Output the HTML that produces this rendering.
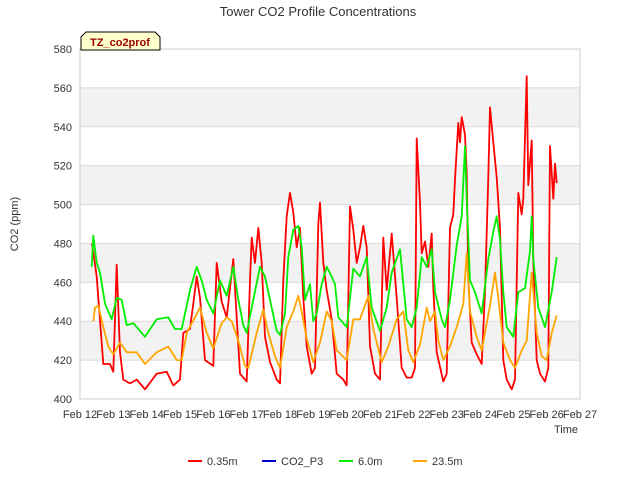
<!DOCTYPE html>
<html><head><meta charset="utf-8"><style>
body{margin:0;background:#fff;}
svg{display:block;font-family:"Liberation Sans","DejaVu Sans",sans-serif;}
</style></head><body>
<svg id="chart" width="640" height="480" viewBox="0 0 640 480">
<text x="318" y="16" text-anchor="middle" font-size="13" fill="#333">Tower CO2 Profile Concentrations</text>
<g id="bands"></g><g id="grid"></g>
<rect x="80" y="49" width="500" height="350" fill="none" stroke="#ccc"/>
<g id="yticks"></g><g id="xticks"></g><g id="series"></g>
<text transform="translate(18,224) rotate(-90)" text-anchor="middle" font-size="11" fill="#333">CO2 (ppm)</text>
<text x="566" y="433" text-anchor="middle" font-size="11" fill="#333">Time</text>
<g>
<path d="M81,50 L81,37 L86,32 L155,32 L160,37 L160,50 Z" fill="#ffffcc" stroke="#000" stroke-width="1"/>
<text x="120" y="46" text-anchor="middle" font-size="11" font-weight="bold" fill="#990000">TZ_co2prof</text>
</g>
<g id="legend"></g>
</svg>
<script>
const yTicks=[400,420,440,460,480,500,520,540,560,580];
const xTickDays=[12,13,14,15,16,17,18,19,20,21,22,23,24,25,26,27];
const xTickLabels=["Feb 12","Feb 13","Feb 14","Feb 15","Feb 16","Feb 17","Feb 18","Feb 19","Feb 20","Feb 21","Feb 22","Feb 23","Feb 24","Feb 25","Feb 26","Feb 27"];
const seriesNames=["0.35m","CO2_P3","6.0m","23.5m"];
const seriesColors=["#ff0000","#0000cc","#00ee00","#ffa500"];
const t035=[12.36,12.5,12.7,12.9,13.0,13.1,13.2,13.3,13.5,13.7,13.95,14.3,14.6,14.8,15.0,15.1,15.3,15.45,15.5,15.6,15.75,16.0,16.1,16.25,16.4,16.6,16.7,16.8,17.0,17.1,17.15,17.25,17.35,17.45,17.55,17.7,17.9,18.0,18.1,18.2,18.3,18.4,18.5,18.6,18.7,18.8,18.95,19.05,19.15,19.2,19.3,19.4,19.55,19.7,19.9,20.0,20.1,20.2,20.3,20.4,20.5,20.6,20.7,20.85,21.0,21.1,21.2,21.35,21.5,21.65,21.8,21.95,22.05,22.1,22.2,22.25,22.35,22.45,22.55,22.6,22.7,22.9,23.0,23.1,23.2,23.25,23.35,23.4,23.45,23.55,23.6,23.65,23.75,23.9,24.05,24.15,24.25,24.3,24.4,24.5,24.6,24.7,24.8,24.95,25.05,25.15,25.25,25.3,25.4,25.45,25.55,25.6,25.7,25.8,25.95,26.05,26.1,26.2,26.25,26.3];
const v035=[480,463,418,418,414,469,424,410,408,410,405,413,414,407,410,434,436,456,463,452,420,417,470,450,442,472,442,413,409,461,483,470,488,470,432,419,410,408,461,494,506,496,478,488,452,427,413,416,490,501,470,456,441,413,410,407,499,487,470,478,489,478,427,413,410,483,456,485,452,416,411,411,416,534,501,475,481,468,485,457,424,409,413,488,495,513,542,532,545,536,516,461,429,423,418,455,514,550,532,514,488,420,410,405,410,506,495,503,566,510,533,471,420,413,409,416,530,503,521,511];
const tP3=[];
const vP3=[];
const t60=[12.35,12.4,12.5,12.6,12.75,12.95,13.1,13.25,13.4,13.6,13.95,14.3,14.65,14.85,15.05,15.3,15.5,15.65,15.8,16.0,16.2,16.4,16.6,16.75,16.9,17.0,17.2,17.4,17.55,17.7,17.9,18.0,18.15,18.25,18.4,18.55,18.65,18.75,18.9,19.0,19.1,19.25,19.4,19.55,19.65,19.75,20.0,20.2,20.4,20.6,20.75,21.0,21.2,21.35,21.6,21.8,21.95,22.1,22.25,22.4,22.55,22.65,22.85,22.95,23.1,23.3,23.45,23.55,23.6,23.7,23.85,24.05,24.25,24.4,24.5,24.6,24.7,24.8,25.0,25.15,25.35,25.5,25.55,25.6,25.75,25.95,26.15,26.3];
const v60=[468,484,470,465,449,441,452,451,438,439,432,441,442,436,436,456,468,461,451,444,461,453,468,451,438,434,451,468,463,451,435,433,444,473,487,489,478,451,459,440,444,459,468,463,459,442,437,467,463,473,447,435,447,465,477,441,437,447,473,468,477,455,441,437,451,479,494,530,503,461,455,444,472,486,494,482,455,437,432,455,457,476,494,472,447,437,455,473];
const t235=[12.4,12.45,12.55,12.7,12.85,13.0,13.2,13.4,13.7,13.95,14.3,14.65,14.9,15.05,15.2,15.45,15.6,15.8,16.0,16.25,16.4,16.55,16.75,16.95,17.05,17.3,17.5,17.65,17.85,18.0,18.2,18.4,18.55,18.65,18.8,19.0,19.2,19.4,19.55,19.7,20.0,20.2,20.4,20.65,20.8,21.05,21.25,21.5,21.7,21.85,22.0,22.2,22.4,22.5,22.65,22.75,22.9,23.1,23.3,23.5,23.6,23.7,23.9,24.05,24.3,24.45,24.55,24.7,24.9,25.05,25.25,25.4,25.55,25.7,25.85,26.0,26.15,26.3];
const v235=[440,447,448,437,427,423,429,424,424,418,424,427,420,420,434,442,447,434,426,439,442,440,430,417,416,434,446,434,422,416,437,445,453,445,431,419,429,445,440,425,420,441,441,453,436,419,427,441,445,425,419,428,447,440,445,430,420,427,437,449,475,445,432,425,448,465,452,429,420,416,425,430,465,434,422,420,434,443];
const X0=80,X1=580,Y0=399,Y1=49,DMIN=12,DMAX=27,VMIN=400,VMAX=580;
const xs=d=>X0+(d-DMIN)*(X1-X0)/(DMAX-DMIN);
const ys=v=>Y0-(v-VMIN)*(Y0-Y1)/(VMAX-VMIN);
const NS="http://www.w3.org/2000/svg";
function mk(tag,attrs,parent){const e=document.createElementNS(NS,tag);for(const k in attrs)e.setAttribute(k,attrs[k]);parent.appendChild(e);return e;}
const bands=document.getElementById('bands'),grid=document.getElementById('grid');
for(let i=0;i<yTicks.length-1;i++){
  if(i%2===1){const r=mk('rect',{x:X0,y:ys(yTicks[i+1]),width:X1-X0,height:ys(yTicks[i])-ys(yTicks[i+1]),fill:'#f2f2f2'},bands);
  
  }
}
const yt=document.getElementById('yticks');
yTicks.forEach(v=>{
  const l=mk('line',{x1:X0,x2:X1,y1:ys(v),y2:ys(v),stroke:'#dcdcdc','stroke-width':1},grid);
  
  
  const t=mk('text',{x:X0-8,y:ys(v)+4,'text-anchor':'end','font-size':11,fill:'#333'},yt);
  t.textContent=v;
  
  
});
const xt=document.getElementById('xticks');
xTickDays.forEach((d,i)=>{
  const t=mk('text',{x:xs(d),y:418,'text-anchor':'middle','font-size':11,fill:'#333'},xt);
  t.textContent=xTickLabels[i];
  
  
});
const sg=document.getElementById('series');
const allT=[t035,tP3,t60,t235],allV=[v035,vP3,v60,v235];
allT.forEach((ts,si)=>{
  if(!ts.length)return;
  const d=ts.map((t,i)=>(i?'L':'M')+xs(t).toFixed(1)+','+ys(allV[si][i]).toFixed(1)).join(' ');
  const p=mk('path',{d:d,fill:'none',stroke:seriesColors[si],'stroke-width':1.8,'stroke-linejoin':'round'},sg);
  
  
});
const lg=document.getElementById('legend');
const lx=[188,262,339,413];
seriesNames.forEach((n,i)=>{
  const g=mk('g',{},lg);
  
  
  mk('line',{x1:lx[i],x2:lx[i]+14,y1:461,y2:461,stroke:seriesColors[i],'stroke-width':2},g);
  const t=mk('text',{x:lx[i]+19,y:465,'font-size':11,fill:'#333'},g);
  t.textContent=n;
});
</script>
</body></html>
